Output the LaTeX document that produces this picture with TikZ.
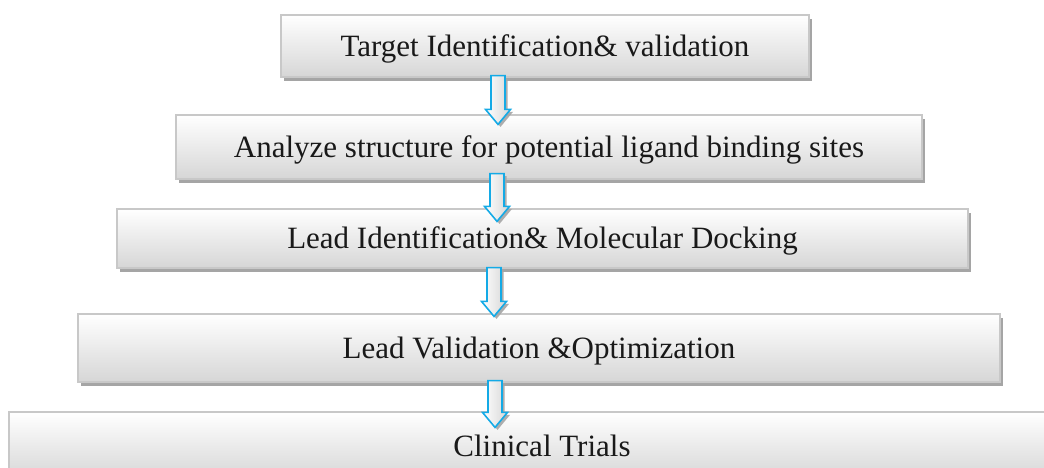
\documentclass[tikz,border=0pt]{standalone}
\usepackage{fontspec}
\setmainfont{Liberation Serif}
\usetikzlibrary{shadows,calc}

\definecolor{boxedge}{RGB}{200,200,200}
\definecolor{boxlow}{RGB}{214,214,214}
\definecolor{shade}{RGB}{165,165,165}
\definecolor{arrowblue}{RGB}{20,170,230}
\definecolor{ink}{RGB}{25,25,25}

\tikzset{
  stagebox/.style={
    draw=boxedge, line width=1.2pt,
    top color=white, bottom color=boxlow,
    drop shadow={shadow xshift=3pt, shadow yshift=-4pt, fill=shade, opacity=1},
    inner sep=0pt, text height=27.9pt, text depth=7.8pt, text=ink,
    font=\fontsize{31}{36}\selectfont
  },
  blockarrow/.style={
    draw=arrowblue, line width=1.6pt, line join=miter,
    left color=white, right color=boxlow,
    drop shadow={shadow xshift=2.5pt, shadow yshift=-2.5pt, fill=shade, opacity=0.9}
  }
}

% hollow block arrow: #1 source node, #2 target node, #3 x position,
% #4 start above source bottom, #5 depth of the tip inside the target
\newcommand\flowarrow[5]{%
  \path[blockarrow] let \p1=(#1.south), \p2=(#2.north) in
    (#3-7, \y1+#4) -- (#3+7, \y1+#4) -- (#3+7, \y2-#5+15)
    -- (#3+12.5, \y2-#5+15) -- (#3, \y2-#5) -- (#3-12.5, \y2-#5+15)
    -- (#3-7, \y2-#5+15) -- cycle;}

\begin{document}
\begin{tikzpicture}[x=1pt, y=1pt]
  \clip (0,0) rectangle (1044,468);
  \fill[white] (0,0) rectangle (1044,468);

  \node[stagebox, minimum width=528pt, minimum height=62pt] (b1) at (545,422) {Target Identification\& validation};
  \node[stagebox, minimum width=746pt, minimum height=64pt] (b2) at (549,321) {Analyze structure for potential ligand binding sites};
  \node[stagebox, minimum width=851pt, minimum height=59pt] (b3) at (542.5,229.5) {Lead Identification\& Molecular Docking};
  \node[stagebox, minimum width=922pt, minimum height=68pt] (b4) at (539,120) {Lead Validation \&Optimization};
  \node[stagebox, minimum width=1066pt, minimum height=68pt] (b5) at (542,22) {Clinical Trials};

  \flowarrow{b1}{b2}{498}{2}{10}
  \flowarrow{b2}{b3}{497}{6}{13}
  \flowarrow{b3}{b4}{494}{1}{3}
  \flowarrow{b4}{b5}{495}{2}{16}
\end{tikzpicture}
\end{document}
